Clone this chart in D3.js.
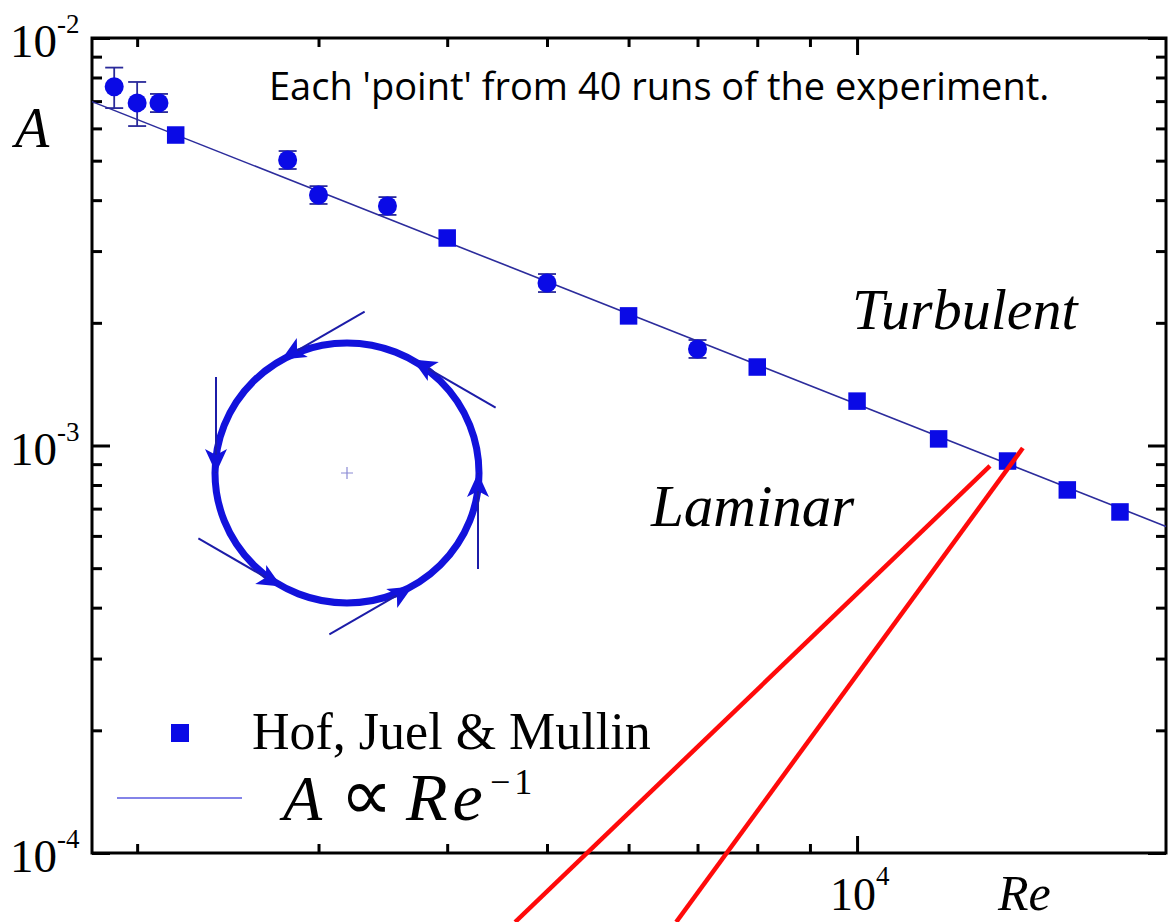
<!DOCTYPE html>
<html>
<head>
<meta charset="utf-8">
<script src="https://cdn.jsdelivr.net/npm/d3@7"></script>
<style>
  body { margin: 0; background: #fff; }
  svg { display: block; }
</style>
</head>
<body>
<svg id="chart"></svg>
<script>
// Hof, Juel & Mullin (squares)
const hofRe = [2180, 4000, 6000, 8000, 10000, 12000, 14000, 16000, 18000];
const hofA  = [5.78e-3, 3.23e-3, 2.08e-3, 1.558e-3, 1.285e-3, 1.038e-3, 9.16e-4, 7.78e-4, 6.87e-4];

// circles: each point from 40 runs, with error bars
const runRe = [1900, 2000, 2100, 2800, 3000, 3500, 5000, 7000];
const runA  = [7.59e-3, 6.93e-3, 6.93e-3, 5.02e-3, 4.12e-3, 3.87e-3, 2.505e-3, 1.725e-3];
const runHi = [8.46e-3, 7.8e-3, 7.29e-3, 5.28e-3, 4.33e-3, 4.07e-3, 2.635e-3, 1.815e-3];
const runLo = [6.73e-3, 6.08e-3, 6.58e-3, 4.77e-3, 3.915e-3, 3.68e-3, 2.38e-3, 1.64e-3];

// A ∝ Re^-1 guide line (end points)
const fitRe = [1808, 19950];
const fitA  = [6.98e-3, 6.33e-4];

// ticks
const xMinor = [2000, 3000, 4000, 5000, 6000, 7000, 8000, 9000];
const xMajor = [1e4];
const xMajorLabels = ["4"];
const yMinor = [2e-4, 3e-4, 4e-4, 5e-4, 6e-4, 7e-4, 8e-4, 9e-4,
                2e-3, 3e-3, 4e-3, 5e-3, 6e-3, 7e-3, 8e-3, 9e-3];
const yMajor = [1e-4, 1e-3, 1e-2];
const yMajorLabels = ["-4", "-3", "-2"];

// red hand-drawn strokes, [Re, A] at each end
const redStrokeA = [[13460, 8.907e-4], [4656, 6.77e-5]];
const redStrokeB = [[14486, 9.86e-4], [6674, 6.77e-5]];

const W = 1174, H = 922;
const mLeft = 92, mRight = 1166, mTop = 38, mBottom = 853;
const serif = '"Liberation Serif", "Times New Roman", serif';

const svg = d3.select('#chart')
  .attr('width', W)
  .attr('height', H)
  .style('background', '#fff');

const x = d3.scaleLog().domain([1808, 19950]).range([mLeft, mRight]);
const y = d3.scaleLog().domain([1e-4, 1e-2]).range([mBottom, mTop]);

// ticks, all pointing inward
function ticks(axis, tx, ty) {
  svg.append('g')
    .attr('transform', `translate(${tx},${ty})`)
    .call(axis.tickFormat(''))
    .call(g => g.select('.domain').remove())
    .call(g => g.selectAll('line').attr('stroke', '#000').attr('stroke-width', 3));
}
ticks(d3.axisLeft(y).tickValues(yMinor).tickSize(-10), mLeft, 0);
ticks(d3.axisLeft(y).tickValues(yMajor).tickSize(-18), mLeft, 0);
ticks(d3.axisRight(y).tickValues(yMinor).tickSize(-10), mRight, 0);
ticks(d3.axisRight(y).tickValues(yMajor).tickSize(-18), mRight, 0);
ticks(d3.axisBottom(x).tickValues(xMinor).tickSize(-9), 0, mBottom);
ticks(d3.axisBottom(x).tickValues(xMajor).tickSize(-17), 0, mBottom);
ticks(d3.axisTop(x).tickValues(xMinor).tickSize(-9), 0, mTop);
ticks(d3.axisTop(x).tickValues(xMajor).tickSize(-17), 0, mTop);

// frame
svg.append('rect')
  .attr('x', mLeft).attr('y', mTop)
  .attr('width', mRight - mLeft).attr('height', mBottom - mTop)
  .attr('fill', 'none').attr('stroke', '#000').attr('stroke-width', 3);

// tick labels 10^n
const yl = svg.append('g').attr('font-family', serif).attr('fill', '#000');
yMajor.forEach((v, i) => {
  const t = yl.append('text')
    .attr('x', 10).attr('y', y(v) + 19)
    .attr('font-size', 47);
  t.append('tspan').text('10');
  t.append('tspan').attr('dy', -24).attr('font-size', 27).text(yMajorLabels[i]);
});
xMajor.forEach((v, i) => {
  const t = svg.append('text')
    .attr('font-family', serif)
    .attr('x', x(v) - 27).attr('y', 910)
    .attr('font-size', 46);
  t.append('tspan').text('10');
  t.append('tspan').attr('dy', -25).attr('font-size', 27).text(xMajorLabels[i]);
});

// axis titles
svg.append('text')
  .attr('x', 15).attr('y', 147)
  .attr('font-family', serif).attr('font-style', 'italic').attr('font-size', 56)
  .text('A');
svg.append('text')
  .attr('x', 998).attr('y', 910)
  .attr('font-family', serif).attr('font-style', 'italic').attr('font-size', 50)
  .text('Re');

// guide line
const line = d3.line().x(d => x(d[0])).y(d => y(d[1]));
svg.append('path')
  .datum(fitRe.map((r, i) => [r, fitA[i]]))
  .attr('d', line)
  .attr('fill', 'none').attr('stroke', '#2c2c9c').attr('stroke-width', 1.6);

// error bars
const runs = runRe.map((r, i) => ({re: r, a: runA[i], hi: runHi[i], lo: runLo[i]}));
const eb = svg.append('g').attr('stroke', '#2a2a9a').attr('stroke-width', 1.8);
runs.forEach(d => {
  const cx = x(d.re);
  eb.append('line').attr('x1', cx).attr('x2', cx).attr('y1', y(d.hi)).attr('y2', y(d.lo));
  eb.append('line').attr('x1', cx - 9).attr('x2', cx + 9).attr('y1', y(d.hi)).attr('y2', y(d.hi));
  eb.append('line').attr('x1', cx - 9).attr('x2', cx + 9).attr('y1', y(d.lo)).attr('y2', y(d.lo));
});

svg.selectAll('.run')
  .data(runs)
  .join('circle')
    .attr('class', 'run')
    .attr('cx', d => x(d.re))
    .attr('cy', d => y(d.a))
    .attr('r', 9.5)
    .attr('fill', '#0a0ae6');

const sq = 17.5;
svg.selectAll('.hof')
  .data(hofRe.map((r, i) => ({re: r, a: hofA[i]})))
  .join('rect')
    .attr('class', 'hof')
    .attr('x', d => x(d.re) - sq / 2)
    .attr('y', d => y(d.a) - sq / 2)
    .attr('width', sq).attr('height', sq)
    .attr('fill', '#0a0ae6');

// annotations
svg.append('text')
  .attr('x', 269).attr('y', 100)
  .attr('font-family', '"Open Sans", "Noto Sans", sans-serif')
  .attr('font-size', 38)
  .attr('fill', '#000')
  .text("Each 'point' from 40 runs of the experiment.");
svg.append('text')
  .attr('x', 852).attr('y', 329)
  .attr('font-family', serif).attr('font-style', 'italic').attr('font-size', 58)
  .text('Turbulent');
svg.append('text')
  .attr('x', 651).attr('y', 526)
  .attr('font-family', serif).attr('font-style', 'italic').attr('font-size', 59)
  .text('Laminar');

// inset: circular orbit sketch
const ic = [347, 473], ir = 131;
const inset = svg.append('g');
inset.append('ellipse')
  .attr('cx', ic[0]).attr('cy', ic[1]).attr('rx', ir + 1).attr('ry', ir - 1)
  .attr('fill', 'none').attr('stroke', '#1212dc').attr('stroke-width', 7);
inset.append('path')
  .attr('d', `M${ic[0] - 6},${ic[1]}H${ic[0] + 6}M${ic[0]},${ic[1] - 6}V${ic[1] + 6}`)
  .attr('stroke', '#8a8ad4').attr('stroke-width', 1.2);
const arrowAngles = [0, -60, -120, -180, -240, -300];
arrowAngles.forEach(deg => {
  const t = deg * Math.PI / 180;
  const px = ic[0] + ir * Math.cos(t), py = ic[1] + ir * Math.sin(t);
  const dx = Math.sin(t), dy = -Math.cos(t);   // direction of travel
  const nx = -dy, ny = dx;
  inset.append('line')
    .attr('x1', px - 96 * dx).attr('y1', py - 96 * dy)
    .attr('x2', px).attr('y2', py)
    .attr('stroke', '#1c1ca8').attr('stroke-width', 2);
  const L = 24, Wd = 11, notch = 6;
  const bx = px - L * dx, by = py - L * dy;
  inset.append('path')
    .attr('d', `M${px},${py}L${bx + Wd * nx},${by + Wd * ny}L${px - (L - notch) * dx},${py - (L - notch) * dy}L${bx - Wd * nx},${by - Wd * ny}Z`)
    .attr('fill', '#1212dc');
});

// legend
svg.append('rect')
  .attr('x', 171).attr('y', 724).attr('width', 18).attr('height', 18)
  .attr('fill', '#0a0ae6');
svg.append('text')
  .attr('x', 252).attr('y', 749)
  .attr('font-family', serif).attr('font-size', 52)
  .text('Hof, Juel & Mullin');
svg.append('line')
  .attr('x1', 117).attr('x2', 242).attr('y1', 798).attr('y2', 798)
  .attr('stroke', '#5a5ae0').attr('stroke-width', 1.6);
const f = svg.append('text')
  .attr('y', 820)
  .attr('font-family', serif).attr('font-size', 64);
f.append('tspan').attr('x', 283).attr('font-style', 'italic').text('A');
f.append('tspan').attr('x', 340).attr('font-size', 74).text('∝');
f.append('tspan').attr('x', 406).attr('font-style', 'italic').attr('font-size', 68).attr('letter-spacing', 5).text('Re');
f.append('tspan').attr('x', 490).attr('dy', -26).attr('font-size', 36).attr('letter-spacing', 4).text('−1');

// red strokes
[redStrokeA, redStrokeB].forEach(s => {
  svg.append('path')
    .datum(s)
    .attr('d', line)
    .attr('stroke', '#ff0a0a').attr('stroke-width', 4.5).attr('fill', 'none');
});
</script>
</body>
</html>
